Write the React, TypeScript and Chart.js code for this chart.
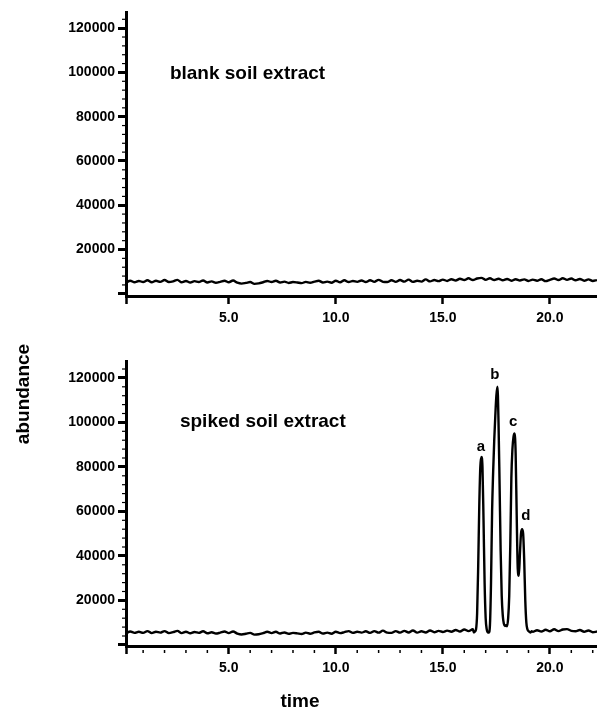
import { useEffect, useRef } from "react";
import { Chart, registerables } from "chart.js";

Chart.register(...registerables);

// ---------- data ----------
const xTickValues = [0.2, 5, 10, 15, 20];
const yTickValues = [0, 20000, 40000, 60000, 80000, 100000, 120000];

const blankTime = [
  0.2, 0.4, 0.6, 0.8, 1.0, 1.2, 1.4, 1.6, 1.8, 2.0,
  2.2, 2.4, 2.6, 2.8, 3.0, 3.2, 3.4, 3.6, 3.8, 4.0,
  4.2, 4.4, 4.6, 4.8, 5.0, 5.2, 5.4, 5.6, 5.8, 6.0,
  6.2, 6.4, 6.6, 6.8, 7.0, 7.2, 7.4, 7.6, 7.8, 8.0,
  8.2, 8.4, 8.6, 8.8, 9.0, 9.2, 9.4, 9.6, 9.8, 10.0,
  10.2, 10.4, 10.6, 10.8, 11.0, 11.2, 11.4, 11.6, 11.8, 12.0,
  12.2, 12.4, 12.6, 12.8, 13.0, 13.2, 13.4, 13.6, 13.8, 14.0,
  14.2, 14.4, 14.6, 14.8, 15.0, 15.2, 15.4, 15.6, 15.8, 16.0,
  16.2, 16.4, 16.6, 16.8, 17.0, 17.2, 17.4, 17.6, 17.8, 18.0,
  18.2, 18.4, 18.6, 18.8, 19.0, 19.2, 19.4, 19.6, 19.8, 20.0,
  20.2, 20.4, 20.6, 20.8, 21.0, 21.2, 21.4, 21.6, 21.8, 22.0,
  22.2,
];
const blankAbundance = [
  5000, 5900, 5200, 5800, 5300, 6100, 5200, 5900, 5400, 6200,
  5300, 5600, 6300, 5200, 5800, 5100, 5700, 5300, 6000, 5100,
  5600, 5000, 5400, 5900, 5200, 6000, 5000, 4600, 4900, 5300,
  4500, 4700, 5200, 5800, 5300, 5900, 5100, 5500, 4900, 5300,
  5100, 4800, 5400, 5000, 5500, 5900, 5100, 5500, 5000, 5900,
  5200, 6100, 5300, 5800, 5400, 6000, 5300, 6100, 5400, 6300,
  5400, 5300, 6100, 5400, 6200, 5500, 6400, 5400, 5900, 5500,
  6500, 5600, 6200, 5700, 6400, 5800, 6600, 6000, 6800, 6200,
  7000, 6200, 6900, 7200, 6300, 7000, 6200, 6800, 6100, 6700,
  5900, 6600, 6000, 6500, 5800, 6400, 5900, 6600, 5700, 6300,
  6900, 6200, 7000, 6300, 6900, 6100, 6700, 5900, 6500, 5800,
  6200,
];

const spikedTime = [
  0.2, 0.4, 0.6, 0.8, 1.0, 1.2, 1.4, 1.6, 1.8, 2.0,
  2.2, 2.4, 2.6, 2.8, 3.0, 3.2, 3.4, 3.6, 3.8, 4.0,
  4.2, 4.4, 4.6, 4.8, 5.0, 5.2, 5.4, 5.6, 5.8, 6.0,
  6.2, 6.4, 6.6, 6.8, 7.0, 7.2, 7.4, 7.6, 7.8, 8.0,
  8.2, 8.4, 8.6, 8.8, 9.0, 9.2, 9.4, 9.6, 9.8, 10.0,
  10.2, 10.4, 10.6, 10.8, 11.0, 11.2, 11.4, 11.6, 11.8, 12.0,
  12.2, 12.4, 12.6, 12.8, 13.0, 13.2, 13.4, 13.6, 13.8, 14.0,
  14.2, 14.4, 14.6, 14.8, 15.0, 15.2, 15.4, 15.6, 15.8, 16.0,
  16.2, 16.4,
  16.45, 16.5, 16.55, 16.6, 16.65, 16.7, 16.75, 16.8, 16.85, 16.9,
  16.95, 17.0, 17.05, 17.1, 17.15, 17.2, 17.25, 17.3, 17.35, 17.4,
  17.45, 17.5, 17.55, 17.6, 17.65, 17.7, 17.75, 17.8, 17.85, 17.9,
  17.95, 18.0, 18.05, 18.1, 18.15, 18.2, 18.25, 18.3, 18.35, 18.4,
  18.45, 18.5, 18.55, 18.6, 18.65, 18.7, 18.75, 18.8, 18.85, 18.9,
  18.95, 19.0, 19.05, 19.1, 19.15,
  19.2, 19.4, 19.6, 19.8, 20.0, 20.2, 20.4, 20.6, 20.8, 21.0,
  21.2, 21.4, 21.6, 21.8, 22.0, 22.2,
];
const spikedAbundance = [
  5200, 6000, 5400, 5900, 5400, 6200, 5300, 5900, 5500, 6200,
  5300, 5700, 6300, 5300, 5900, 5200, 5800, 5400, 6100, 5200,
  5700, 5100, 5500, 6000, 5300, 6000, 5100, 4700, 5000, 5400,
  4600, 4800, 5300, 5900, 5300, 5900, 5100, 5600, 5000, 5400,
  5200, 4900, 5500, 5000, 5600, 5900, 5100, 5500, 5000, 5900,
  5300, 5700, 6200, 5400, 5900, 5500, 6100, 5400, 6200, 5500,
  6400, 5500, 5400, 6200, 5500, 6300, 5600, 6500, 5500, 6100,
  5600, 6500, 5700, 6300, 5800, 6400, 5900, 6700, 6000, 6900,
  6200, 7000,
  5600, 6000, 7000, 14000, 35000, 62000, 80000, 84500, 80000, 56000,
  28000, 12000, 7000, 5600, 5600, 9000, 28000, 60000, 78000, 92000,
  103000, 112000, 116000, 100000, 72000, 42000, 22000, 13000, 9500, 8500,
  8800, 8400, 12000, 22000, 45000, 75000, 88000, 93500, 95000, 86000,
  58000, 34000, 31000, 41000, 50000, 52000, 50000, 38000, 20000, 10000,
  7000, 6200, 5800, 5600, 6100,
  5900, 6600, 6000, 6800, 6100, 7000, 6200, 6900, 7100, 6300,
  6100, 6700, 5900, 6500, 5700, 6000,
];

const peakLabels = ["a", "b", "c", "d"];
const peakLabelTime = [16.78, 17.43, 18.28, 18.88];
const peakLabelAbundance = [89200, 121200, 100450, 58070];

// ---------- styling ----------
const FAMILY = '"Liberation Sans", Arial, Helvetica, sans-serif';

const minorTicksPlugin = {
  id: "minorTicks",
  afterDraw(chart: any, _args: any, opts: any) {
    const ctx = chart.ctx;
    const ys = chart.scales.y;
    const xs = chart.scales.x;
    const area = chart.chartArea;
    ctx.save();
    ctx.strokeStyle = "#000";
    ctx.lineWidth = 1.2;
    for (let v = 4000; v <= ys.max; v += 4000) {
      if (v % 20000 === 0) continue;
      const py = ys.getPixelForValue(v);
      ctx.beginPath();
      ctx.moveTo(area.left - 4, py);
      ctx.lineTo(area.left - 1, py);
      ctx.stroke();
    }
    if (opts && opts.x) {
      ctx.lineWidth = 1.5;
      for (let v = 1; v <= xs.max; v += 1) {
        if (v % 5 === 0) continue;
        const px = xs.getPixelForValue(v);
        ctx.beginPath();
        ctx.moveTo(px, area.bottom + 4);
        ctx.lineTo(px, area.bottom + 7);
        ctx.stroke();
      }
    }
    ctx.restore();
  },
};

const textPlugin = {
  id: "texts",
  afterDatasetsDraw(chart: any, _args: any, opts: any) {
    const ctx = chart.ctx;
    const xs = chart.scales.x;
    const ys = chart.scales.y;
    ctx.save();
    ctx.fillStyle = "#000";
    for (const it of opts.items || []) {
      ctx.save();
      ctx.font = it.font;
      ctx.textAlign = it.align || "left";
      ctx.textBaseline = it.baseline || "alphabetic";
      const px = it.data ? xs.getPixelForValue(it.x) : it.x;
      const py = it.data ? ys.getPixelForValue(it.y) : it.y;
      ctx.translate(px, py);
      if (it.rotate) ctx.rotate(it.rotate);
      ctx.fillText(it.text, 0, 0);
      ctx.restore();
    }
    ctx.restore();
  },
};

function makeConfig(
  times: number[],
  values: number[],
  padTop: number,
  xHeight: number,
  yMin: number,
  yMax: number,
  items: any[],
  minorX: boolean
): any {
  return {
    type: "line",
    data: {
      datasets: [
        {
          data: times.map((t, i) => ({ x: t, y: values[i] })),
          borderColor: "#000",
          borderWidth: 2.4,
          pointRadius: 0,
          fill: false,
          cubicInterpolationMode: "monotone",
        },
      ],
    },
    plugins: [minorTicksPlugin, textPlugin],
    options: {
      responsive: false,
      animation: false,
      layout: { padding: { top: padTop, left: 0, right: 0, bottom: 0 } },
      plugins: {
        legend: { display: false },
        tooltip: { enabled: false },
        minorTicks: { x: minorX },
        texts: { items },
      },
      scales: {
        x: {
          type: "linear",
          min: 0.2,
          max: 22.2,
          afterBuildTicks: (s: any) => {
            s.ticks = xTickValues.map((v) => ({ value: v }));
          },
          afterFit: (s: any) => {
            s.height = xHeight;
          },
          grid: {
            drawOnChartArea: false,
            drawTicks: true,
            tickLength: 8,
            tickWidth: 2.5,
            tickColor: "#000",
          },
          border: { display: true, color: "#000", width: 3 },
          ticks: {
            color: "#000",
            autoSkip: false,
            maxRotation: 0,
            padding: 6,
            font: { family: FAMILY, size: 14, weight: "bold" },
            callback: (v: any) => (Number(v) < 1 ? "" : Number(v).toFixed(1)),
          },
        },
        y: {
          type: "linear",
          min: yMin,
          max: yMax,
          afterBuildTicks: (s: any) => {
            s.ticks = yTickValues.map((v) => ({ value: v }));
          },
          afterFit: (s: any) => {
            s.width = 126;
          },
          grid: {
            drawOnChartArea: false,
            drawTicks: true,
            tickLength: 8,
            tickWidth: 3,
            tickColor: "#000",
          },
          border: { display: true, color: "#000", width: 3 },
          ticks: {
            color: "#000",
            autoSkip: false,
            padding: 3,
            font: { family: FAMILY, size: 14, weight: "bold" },
            callback: (v: any) => (Number(v) === 0 ? "" : String(v)),
          },
        },
      },
    },
  };
}

export default function App() {
  const topRef = useRef<HTMLCanvasElement>(null);
  const botRef = useRef<HTMLCanvasElement>(null);

  useEffect(() => {
    const bigFont = `bold 19px ${FAMILY}`;
    const letterFont = `bold 15px ${FAMILY}`;
    const top = new Chart(
      topRef.current!,
      makeConfig(
        blankTime,
        blankAbundance,
        12,
        44,
        -1000,
        127300,
        [{ text: "blank soil extract", x: 2.25, y: 97200, data: true, font: bigFont }],
        false
      )
    );
    const peakItems = peakLabels.map((t, i) => ({
      text: t,
      x: peakLabelTime[i],
      y: peakLabelAbundance[i],
      data: true,
      font: letterFont,
      align: "center",
      baseline: "middle",
    }));
    const bottom = new Chart(
      botRef.current!,
      makeConfig(
        spikedTime,
        spikedAbundance,
        21,
        62,
        -500,
        127600,
        [
          { text: "spiked soil extract", x: 2.72, y: 97900, data: true, font: bigFont },
          ...peakItems,
          { text: "time", x: 300, y: 367, data: false, font: bigFont, align: "center" },
          {
            text: "abundance",
            x: 28.5,
            y: 54,
            data: false,
            font: bigFont,
            align: "center",
            rotate: -Math.PI / 2,
          },
        ],
        true
      )
    );
    return () => {
      top.destroy();
      bottom.destroy();
    };
  }, []);

  return (
    <div style={{ position: "absolute", left: 0, top: 0, width: 597, height: 708, background: "#fff" }}>
      <canvas
        ref={topRef}
        width={597}
        height={340}
        style={{ position: "absolute", left: 0, top: 0, width: 597, height: 340 }}
      />
      <canvas
        ref={botRef}
        width={597}
        height={368}
        style={{ position: "absolute", left: 0, top: 340, width: 597, height: 368 }}
      />
    </div>
  );
}
